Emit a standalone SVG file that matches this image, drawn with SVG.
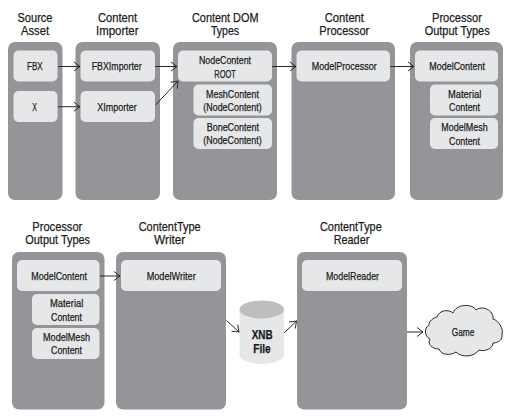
<svg xmlns="http://www.w3.org/2000/svg" width="513" height="417" viewBox="0 0 513 417">
<defs>
<marker id="arrow" markerUnits="userSpaceOnUse" markerWidth="10" markerHeight="12" refX="8.500" refY="6" orient="auto"><path d="M2.500 1.500L8.500 6L2.500 10.500" fill="none" stroke="#2a2a2a" stroke-width="1"/></marker>
</defs>
<style>
text{font-family:"Liberation Sans",Arial,sans-serif;fill:#1a1a1a;stroke:#1a1a1a;stroke-width:.25px;text-anchor:start}
.t{font-size:13.500px}
.n{font-size:11.500px}
.x{font-size:12.500px;font-weight:bold}
.panel{fill:#939598}
.box{fill:#e6e7e8}
.c{stroke:#2a2a2a;stroke-width:1;fill:none;marker-end:url(#arrow)}
</style>
<rect width="513" height="417" fill="#fff"/>
<g id="title-source"><text class="t" x="17.500" y="21.500" textLength="35" lengthAdjust="spacingAndGlyphs">Source</text><text class="t" x="21" y="35" textLength="28" lengthAdjust="spacingAndGlyphs">Asset</text></g>
<g id="panel-source"><rect class="panel" x="8" y="42" width="54.500" height="158" rx="7"/>
<g id="fbx"><rect class="box" x="13.500" y="50.500" width="44" height="31" rx="5"/><text class="n" x="27" y="70" textLength="15.700" lengthAdjust="spacingAndGlyphs">FBX</text></g>
<g id="x"><rect class="box" x="13.500" y="91" width="44" height="31" rx="5"/><text class="n" x="32.300" y="111" textLength="4.700" lengthAdjust="spacingAndGlyphs">X</text></g></g>
<g id="title-importer"><text class="t" x="98" y="21.500" textLength="39" lengthAdjust="spacingAndGlyphs">Content</text><text class="t" x="96" y="35" textLength="42.500" lengthAdjust="spacingAndGlyphs">Importer</text></g>
<g id="panel-importer"><rect class="panel" x="75.500" y="42" width="84.500" height="158" rx="7"/>
<g id="fbximporter"><rect class="box" x="80.500" y="50.500" width="74.500" height="31" rx="5"/><text class="n" x="91.700" y="70" textLength="50" lengthAdjust="spacingAndGlyphs">FBXImporter</text></g>
<g id="ximporter"><rect class="box" x="80.500" y="91" width="74.500" height="31" rx="5"/><text class="n" x="97.300" y="111" textLength="39.400" lengthAdjust="spacingAndGlyphs">XImporter</text></g></g>
<g id="title-dom"><text class="t" x="192" y="21.500" textLength="66.500" lengthAdjust="spacingAndGlyphs">Content DOM</text><text class="t" x="211" y="35" textLength="28" lengthAdjust="spacingAndGlyphs">Types</text></g>
<g id="panel-dom"><rect class="panel" x="173" y="42" width="104" height="158" rx="7"/>
<g id="nodecontent"><rect class="box" x="178" y="50.500" width="94" height="31" rx="5"/><text class="n" x="199" y="64" textLength="52" lengthAdjust="spacingAndGlyphs">NodeContent</text><text class="n" x="214.300" y="77.500" textLength="21.400" lengthAdjust="spacingAndGlyphs">ROOT</text></g>
<g id="meshcontent"><rect class="box" x="193.500" y="84.500" width="78.500" height="31" rx="5"/><text class="n" x="206" y="97.500" textLength="53" lengthAdjust="spacingAndGlyphs">MeshContent</text><text class="n" x="203.300" y="110.500" textLength="58.400" lengthAdjust="spacingAndGlyphs">(NodeContent)</text></g>
<g id="bonecontent"><rect class="box" x="193.500" y="118" width="78.500" height="31" rx="5"/><text class="n" x="206.700" y="131" textLength="52.300" lengthAdjust="spacingAndGlyphs">BoneContent</text><text class="n" x="203.300" y="144" textLength="58.400" lengthAdjust="spacingAndGlyphs">(NodeContent)</text></g></g>
<g id="title-processor"><text class="t" x="324.700" y="21.500" textLength="39.300" lengthAdjust="spacingAndGlyphs">Content</text><text class="t" x="319.300" y="35" textLength="50" lengthAdjust="spacingAndGlyphs">Processor</text></g>
<g id="panel-processor"><rect class="panel" x="291.500" y="42" width="103.500" height="158" rx="7"/>
<g id="modelprocessor"><rect class="box" x="296.500" y="50.500" width="93.500" height="31" rx="5"/><text class="n" x="311.700" y="70" textLength="65" lengthAdjust="spacingAndGlyphs">ModelProcessor</text></g></g>
<g id="title-output"><text class="t" x="432" y="21.500" textLength="50" lengthAdjust="spacingAndGlyphs">Processor</text><text class="t" x="424.700" y="35" textLength="65" lengthAdjust="spacingAndGlyphs">Output Types</text></g>
<g id="panel-output"><rect class="panel" x="410" y="42" width="93" height="158" rx="7"/>
<g id="modelcontent"><rect class="box" x="415" y="50.500" width="83" height="31" rx="5"/><text class="n" x="429.300" y="70" textLength="55.700" lengthAdjust="spacingAndGlyphs">ModelContent</text></g>
<g id="materialcontent"><rect class="box" x="430" y="84.500" width="68" height="31" rx="5"/><text class="n" x="448" y="97.500" textLength="33.300" lengthAdjust="spacingAndGlyphs">Material</text><text class="n" x="449" y="111" textLength="31" lengthAdjust="spacingAndGlyphs">Content</text></g>
<g id="modelmeshcontent"><rect class="box" x="430" y="118" width="68" height="31" rx="5"/><text class="n" x="441.300" y="131" textLength="46.400" lengthAdjust="spacingAndGlyphs">ModelMesh</text><text class="n" x="449" y="144.500" textLength="31" lengthAdjust="spacingAndGlyphs">Content</text></g></g>
<g id="title-output2"><text class="t" x="32.300" y="230.700" textLength="50" lengthAdjust="spacingAndGlyphs">Processor</text><text class="t" x="25.300" y="244.300" textLength="64.700" lengthAdjust="spacingAndGlyphs">Output Types</text></g>
<g id="panel-output2"><rect class="panel" x="12" y="252" width="92.500" height="157.500" rx="7"/>
<g id="modelcontent2"><rect class="box" x="17" y="260" width="82.500" height="31" rx="5"/><text class="n" x="31.300" y="280" textLength="55.700" lengthAdjust="spacingAndGlyphs">ModelContent</text></g>
<g id="materialcontent2"><rect class="box" x="32" y="294" width="67.500" height="31" rx="5"/><text class="n" x="50" y="307" textLength="33.300" lengthAdjust="spacingAndGlyphs">Material</text><text class="n" x="51" y="320.500" textLength="31" lengthAdjust="spacingAndGlyphs">Content</text></g>
<g id="modelmeshcontent2"><rect class="box" x="32" y="328" width="67.500" height="31" rx="5"/><text class="n" x="43" y="340.500" textLength="47" lengthAdjust="spacingAndGlyphs">ModelMesh</text><text class="n" x="51" y="354" textLength="31" lengthAdjust="spacingAndGlyphs">Content</text></g></g>
<g id="title-writer"><text class="t" x="138.700" y="230.700" textLength="62" lengthAdjust="spacingAndGlyphs">ContentType</text><text class="t" x="154" y="244.300" textLength="31.300" lengthAdjust="spacingAndGlyphs">Writer</text></g>
<g id="panel-writer"><rect class="panel" x="116" y="252" width="110" height="157.500" rx="7"/>
<g id="modelwriter"><rect class="box" x="121" y="260" width="100" height="31" rx="5"/><text class="n" x="146.700" y="280" textLength="49" lengthAdjust="spacingAndGlyphs">ModelWriter</text></g></g>
<g id="xnb"><path d="M239.500 309.500V355a22.250 9 0 0 0 44.500 0V309.500Z" fill="#e6e7e8"/><ellipse cx="261.750" cy="309.500" rx="22.250" ry="9" fill="#bcbec0"/><text class="x" x="251.700" y="339" textLength="21" lengthAdjust="spacingAndGlyphs">XNB</text><text class="x" x="253.300" y="353" textLength="17.400" lengthAdjust="spacingAndGlyphs">File</text></g>
<g id="title-reader"><text class="t" x="320" y="230.700" textLength="61.700" lengthAdjust="spacingAndGlyphs">ContentType</text><text class="t" x="333.700" y="244.300" textLength="35.600" lengthAdjust="spacingAndGlyphs">Reader</text></g>
<g id="panel-reader"><rect class="panel" x="297" y="252" width="110" height="157.500" rx="7"/>
<g id="modelreader"><rect class="box" x="302" y="260" width="100" height="31" rx="5"/><text class="n" x="326" y="280" textLength="53" lengthAdjust="spacingAndGlyphs">ModelReader</text></g></g>
<g id="game"><path d="M437 317C439 310 449 309 453 313C456 304 472 303 476 310C482 305 494 310 493 319C498 320 504 329 502 334C503 340 498 343 493 343C493 349 484 352 479 350C474 357 462 358 456 352C450 356 441 355 439 349C432 349 427 344 430 339C424 336 424 328 429 325C429 321 433 318 437 317Z" fill="#e6e7e8" stroke="#2a2a2a" stroke-width="1"/><text class="n" x="451.700" y="335.700" textLength="22.600" lengthAdjust="spacingAndGlyphs">Game</text></g>
<g id="connectors">
<path class="c" d="M58 66.500H80"/>
<path class="c" d="M58 106.700H80"/>
<path class="c" d="M155 66.500H177"/>
<path class="c" d="M155.500 105L178 81"/>
<path class="c" d="M272 66.500H296"/>
<path class="c" d="M390 66.500H414"/>
<path class="c" d="M100 276H120"/>
<path class="c" d="M226.500 320.500L239 332"/>
<path class="c" d="M284 333L296.500 321"/>
<path class="c" d="M407 332H423"/>
</g>
</svg>
